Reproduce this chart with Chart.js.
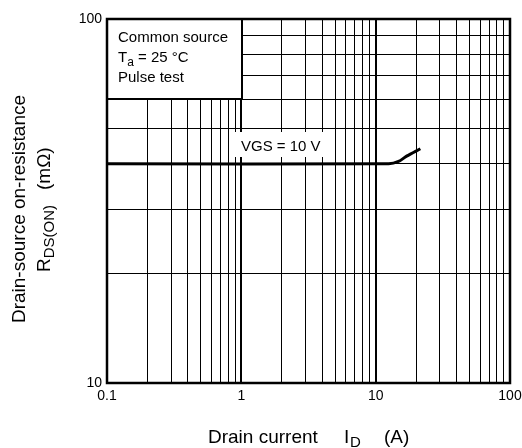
<!DOCTYPE html>
<html>
<head>
<meta charset="utf-8">
<script src="https://cdn.jsdelivr.net/npm/chart.js@4/dist/chart.umd.min.js"></script>
<style>
  html, body { margin: 0; padding: 0; background: #ffffff; }
  #wrap { width: 522px; height: 448px; position: relative; }
</style>
</head>
<body>
<div id="wrap"><canvas id="c" width="522" height="448"></canvas></div>
<script>
// ---- data ----
const drainCurrentA = [0.1, 12.5, 14.8, 17, 21.5];
const rdsOnVgs10 = [40, 40, 40.6, 42, 44];
const seriesLabel = 'VGS = 10 V';

// grid / tick values
const xGridValues = [0.1,0.2,0.3,0.4,0.5,0.6,0.7,0.8,0.9,1,2,3,4,5,6,7,8,9,10,20,30,40,50,60,70,80,90,100];
const xTickLabels = ['0.1', '1', '10', '100'];
const yGridValues = [10,20,30,40,50,60,70,80,90,100];
const yTickLabels = ['10', '100'];

const FONT = '"Liberation Sans", Arial, Helvetica, sans-serif';

function isDecade(v) {
  const l = Math.log10(v);
  return Math.abs(l - Math.round(l)) < 1e-9;
}

const overlayPlugin = {
  id: 'overlay',
  afterDatasetsDraw(chart) {
    const ctx = chart.ctx;
    const a = chart.chartArea;
    ctx.save();

    // VGS label with white background
    ctx.fillStyle = '#ffffff';
    ctx.fillRect(230, 132, 98, 25);
    ctx.fillStyle = '#000';
    ctx.font = '15px ' + FONT;
    ctx.textAlign = 'left';
    ctx.textBaseline = 'alphabetic';
    ctx.fillText(seriesLabel, 241, 151);

    // condition box
    ctx.fillStyle = '#ffffff';
    ctx.fillRect(a.left, a.top, 135, 80);
    ctx.strokeStyle = '#000';
    ctx.lineWidth = 2;
    ctx.strokeRect(a.left, a.top, 135, 80);
    ctx.fillStyle = '#000';
    ctx.font = '15px ' + FONT;
    ctx.fillText('Common source', 118, 42);
    ctx.fillText('T', 118, 62);
    let tw = ctx.measureText('T').width;
    ctx.font = '12px ' + FONT;
    ctx.fillText('a', 118 + tw, 66);
    let aw = ctx.measureText('a').width;
    ctx.font = '15px ' + FONT;
    ctx.fillText(' = 25 \u00B0C', 118 + tw + aw, 62);
    ctx.fillText('Pulse test', 118, 82);

    // plot frame
    ctx.lineWidth = 2.5;
    ctx.strokeRect(a.left, a.top, a.right - a.left, a.bottom - a.top);

    // x axis title
    ctx.font = '19px ' + FONT;
    ctx.fillText('Drain current', 208, 443);
    ctx.fillText('I', 344, 443);
    ctx.font = '15px ' + FONT;
    ctx.fillText('D', 350, 447);
    ctx.font = '19px ' + FONT;
    ctx.fillText('(A)', 384, 443);

    // y axis title (rotated)
    ctx.translate(25, 209);
    ctx.rotate(-Math.PI / 2);
    ctx.textAlign = 'center';
    ctx.font = '19px ' + FONT;
    ctx.fillText('Drain-source on-resistance', 0, 0);
    const dpr = chart.currentDevicePixelRatio || 1;
    ctx.setTransform(dpr, 0, 0, dpr, 0, 0);
    ctx.translate(50, 0);
    ctx.rotate(-Math.PI / 2);
    ctx.textAlign = 'left';
    ctx.font = '19px ' + FONT;
    ctx.fillText('R', -272, 0);
    let rw = ctx.measureText('R').width;
    ctx.font = '15px ' + FONT;
    ctx.fillText('DS(ON)', -272 + rw, 4);
    ctx.font = '19px ' + FONT;
    ctx.fillText('(m\u03A9)', -190, 0);

    ctx.restore();
  }
};

new Chart(document.getElementById('c'), {
  type: 'line',
  data: {
    datasets: [{
      label: seriesLabel,
      data: drainCurrentA.map((x, i) => ({ x: x, y: rdsOnVgs10[i] })),
      borderColor: '#000',
      borderWidth: 3,
      pointRadius: 0,
      tension: 0.3,
      fill: false
    }]
  },
  options: {
    responsive: false,
    animation: false,
    devicePixelRatio: 1,
    layout: { padding: { top: 19, right: 12, bottom: 0, left: 0 } },
    plugins: { legend: { display: false }, tooltip: { enabled: false }, title: { display: false } },
    scales: {
      x: {
        type: 'logarithmic',
        min: 0.1, max: 100,
        afterBuildTicks(scale) { scale.ticks = xGridValues.map(v => ({ value: v })); },
        afterFit(scale) { scale.height = 65; scale.paddingLeft = 0; scale.paddingRight = 0; },
        ticks: {
          autoSkip: false, maxRotation: 0, minRotation: 0, padding: 5,
          color: '#000', font: { family: FONT, size: 14 },
          callback(v) { return isDecade(v) ? xTickLabels[Math.round(Math.log10(v)) + 1] : ''; }
        },
        grid: {
          color: '#000',
          lineWidth(ctx) { return ctx.tick && isDecade(ctx.tick.value) ? 2 : 1; },
          drawTicks: false, tickLength: 0
        },
        border: { display: false }
      },
      y: {
        type: 'logarithmic',
        min: 10, max: 100,
        afterBuildTicks(scale) { scale.ticks = yGridValues.map(v => ({ value: v })); },
        afterFit(scale) { scale.width = 107; scale.paddingTop = 0; scale.paddingBottom = 0; },
        ticks: {
          autoSkip: false, padding: 5,
          color: '#000', font: { family: FONT, size: 14 },
          callback(v) { return isDecade(v) ? yTickLabels[Math.round(Math.log10(v)) - 1] : ''; }
        },
        grid: {
          color: '#000',
          lineWidth: 1,
          drawTicks: false, tickLength: 0
        },
        border: { display: false }
      }
    }
  },
  plugins: [overlayPlugin]
});
</script>
</body>
</html>
